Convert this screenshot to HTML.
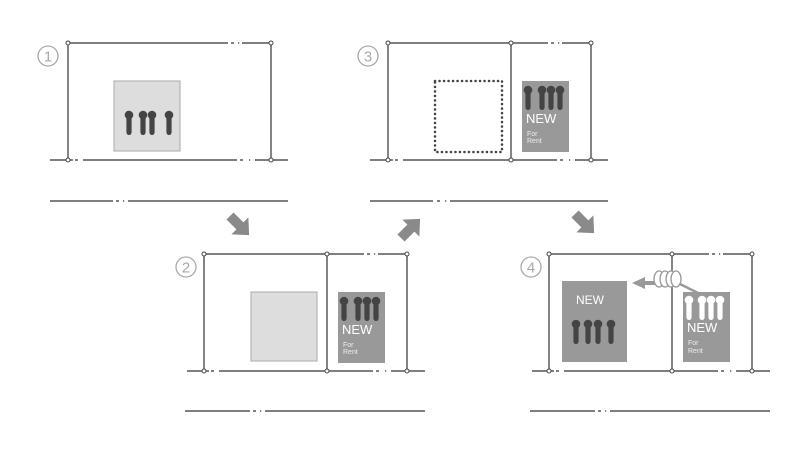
<!DOCTYPE html>
<html><head><meta charset="utf-8"><style>
html,body{margin:0;padding:0;background:#fff;}
svg{display:block;}
text{font-family:"Liberation Sans",sans-serif;}
</style></head><body>
<svg width="800" height="463" viewBox="0 0 800 463" xmlns="http://www.w3.org/2000/svg">
<defs>
<g id="pinD"><circle cx="0" cy="0" r="4.3" fill="#444"/><rect x="-2.6" y="0" width="5.2" height="20" rx="2.6" fill="#444"/></g>
<g id="pinW"><circle cx="0" cy="0" r="4.3" fill="#fff"/><rect x="-2.6" y="0" width="5.2" height="20" rx="2.6" fill="#fff"/></g>
<g id="arr"><polygon points="0,-5 14,-5 14,-12 27,0 14,12 14,5 0,5" fill="#8a8a8a"/></g>
<g id="sign">
<rect x="0" y="0" width="47" height="71" fill="#999"/>
<use href="#pinD" x="6" y="9"/><use href="#pinD" x="20" y="9"/><use href="#pinD" x="29" y="9"/><use href="#pinD" x="38" y="9"/>
<text x="4" y="42" font-size="13" fill="#fff">NEW</text>
<text x="5" y="55" font-size="7" fill="#eee">For</text>
<text x="5" y="62" font-size="7" fill="#eee">Rent</text>
</g>
</defs>
<g stroke="#333" stroke-width="1.2" fill="none">
<!-- panel 1 -->
<path d="M68,43 H228 M242,43 H271 M68,43 V160 M271,43 V160"/>
<path d="M50,160 H73 M83,160 H237 M255,160 H288"/>
<path d="M50,201 H113 M128,201 H288"/>
<!-- panel 3 -->
<path d="M388,43 H548 M562,43 H591 M388,43 V160 M511,43 V160 M591,43 V160"/>
<path d="M370,160 H393 M403,160 H557 M575,160 H608"/>
<path d="M370,201 H433 M450,201 H608"/>
<!-- panel 2 -->
<path d="M204,254 H364 M378,254 H407 M204,254 V371 M327,254 V371 M407,254 V371"/>
<path d="M187,371 H209 M219,371 H373 M391,371 H425"/>
<path d="M185,411 H250 M265,411 H425"/>
<!-- panel 4 -->
<path d="M549,254 H709 M723,254 H752 M549,254 V371 M672,254 V371 M752,254 V371"/>
<path d="M532,371 H554 M564,371 H718 M736,371 H770"/>
<path d="M530,411 H595 M610,411 H770"/>
<!-- dash-dot marks in gaps -->
<path d="M231,43 h3 M238,43 h1.2 M75,160 h3 M240,160 h3 M249,160 h1.2 M116,201 h3 M123,201 h1.2
M551,43 h3 M558,43 h1.2 M395,160 h3 M560,160 h3 M569,160 h1.2 M437,201 h3 M445,201 h1.2
M367,254 h3 M374,254 h1.2 M211,371 h3 M376,371 h3 M385,371 h1.2 M253,411 h3 M260,411 h1.2
M712,254 h3 M719,254 h1.2 M556,371 h3 M721,371 h3 M730,371 h1.2 M598,411 h3 M605,411 h1.2"/>
</g>
<g fill="#fff" stroke="#444" stroke-width="1">
<circle cx="68" cy="43" r="2"/><circle cx="271" cy="43" r="2"/><circle cx="68" cy="160" r="2"/><circle cx="271" cy="160" r="2"/>
<circle cx="388" cy="43" r="2"/><circle cx="511" cy="43" r="2"/><circle cx="591" cy="43" r="2"/><circle cx="388" cy="160" r="2"/><circle cx="511" cy="160" r="2"/><circle cx="591" cy="160" r="2"/>
<circle cx="204" cy="254" r="2"/><circle cx="327" cy="254" r="2"/><circle cx="407" cy="254" r="2"/><circle cx="204" cy="371" r="2"/><circle cx="327" cy="371" r="2"/><circle cx="407" cy="371" r="2"/>
<circle cx="549" cy="254" r="2"/><circle cx="672" cy="254" r="2"/><circle cx="752" cy="254" r="2"/><circle cx="549" cy="371" r="2"/><circle cx="672" cy="371" r="2"/><circle cx="752" cy="371" r="2"/>
</g>
<g fill="none" stroke="#aaa" stroke-width="1.3">
<circle cx="48" cy="56" r="10"/><circle cx="368" cy="56" r="10"/>
<circle cx="186" cy="267" r="10"/><circle cx="531" cy="267" r="10"/>
</g>
<g font-size="15" fill="#aaa" text-anchor="middle">
<text x="48" y="61.5">1</text><text x="368" y="61.5">3</text><text x="186" y="272.5">2</text><text x="531" y="272.5">4</text>
</g>
<!-- panel 1 box -->
<rect x="114" y="81" width="66" height="70" fill="#ddd" stroke="#aaa"/>
<use href="#pinD" x="129" y="115"/><use href="#pinD" x="143" y="115"/><use href="#pinD" x="152" y="115"/><use href="#pinD" x="169" y="115"/>
<!-- panel 3 -->
<rect x="435" y="81" width="67" height="71" fill="none" stroke="#444" stroke-width="2.5" stroke-dasharray="0.1 4.4" stroke-linecap="round"/>
<use href="#sign" x="522" y="81"/>
<!-- panel 2 -->
<rect x="251" y="292" width="66" height="69" fill="#ddd" stroke="#aaa"/>
<use href="#sign" x="338" y="292"/>
<!-- panel 4 -->
<rect x="562" y="281" width="65" height="81" fill="#999"/>
<text x="576" y="304" font-size="12" fill="#fff">NEW</text>
<use href="#pinD" x="576" y="324"/><use href="#pinD" x="588" y="324"/><use href="#pinD" x="598" y="324"/><use href="#pinD" x="611" y="324"/>
<rect x="683" y="292" width="47" height="70" fill="#999"/>
<use href="#pinW" x="689" y="300"/><use href="#pinW" x="702" y="300"/><use href="#pinW" x="711" y="300"/><use href="#pinW" x="720" y="300"/>
<text x="687" y="332" font-size="13" fill="#fff">NEW</text>
<text x="688" y="345" font-size="7" fill="#eee">For</text>
<text x="688" y="353" font-size="7" fill="#eee">Rent</text>
<line x1="680" y1="284" x2="700" y2="294" stroke="#999" stroke-width="2.5"/>
<polygon points="632,283 645,277 645,281 655,281 655,285 645,285 645,289" fill="#999"/>
<g fill="#fff" stroke="#999" stroke-width="1.3">
<ellipse cx="659" cy="279" rx="5" ry="8"/><ellipse cx="665" cy="279" rx="5" ry="8"/><ellipse cx="671" cy="279" rx="5" ry="8"/><ellipse cx="676" cy="279" rx="5" ry="8"/>
</g>
<!-- arrows -->
<use href="#arr" transform="translate(230,216) rotate(45)"/>
<use href="#arr" transform="translate(401,238) rotate(-45)"/>
<use href="#arr" transform="translate(575,214) rotate(45)"/>
</svg>
</body></html>
